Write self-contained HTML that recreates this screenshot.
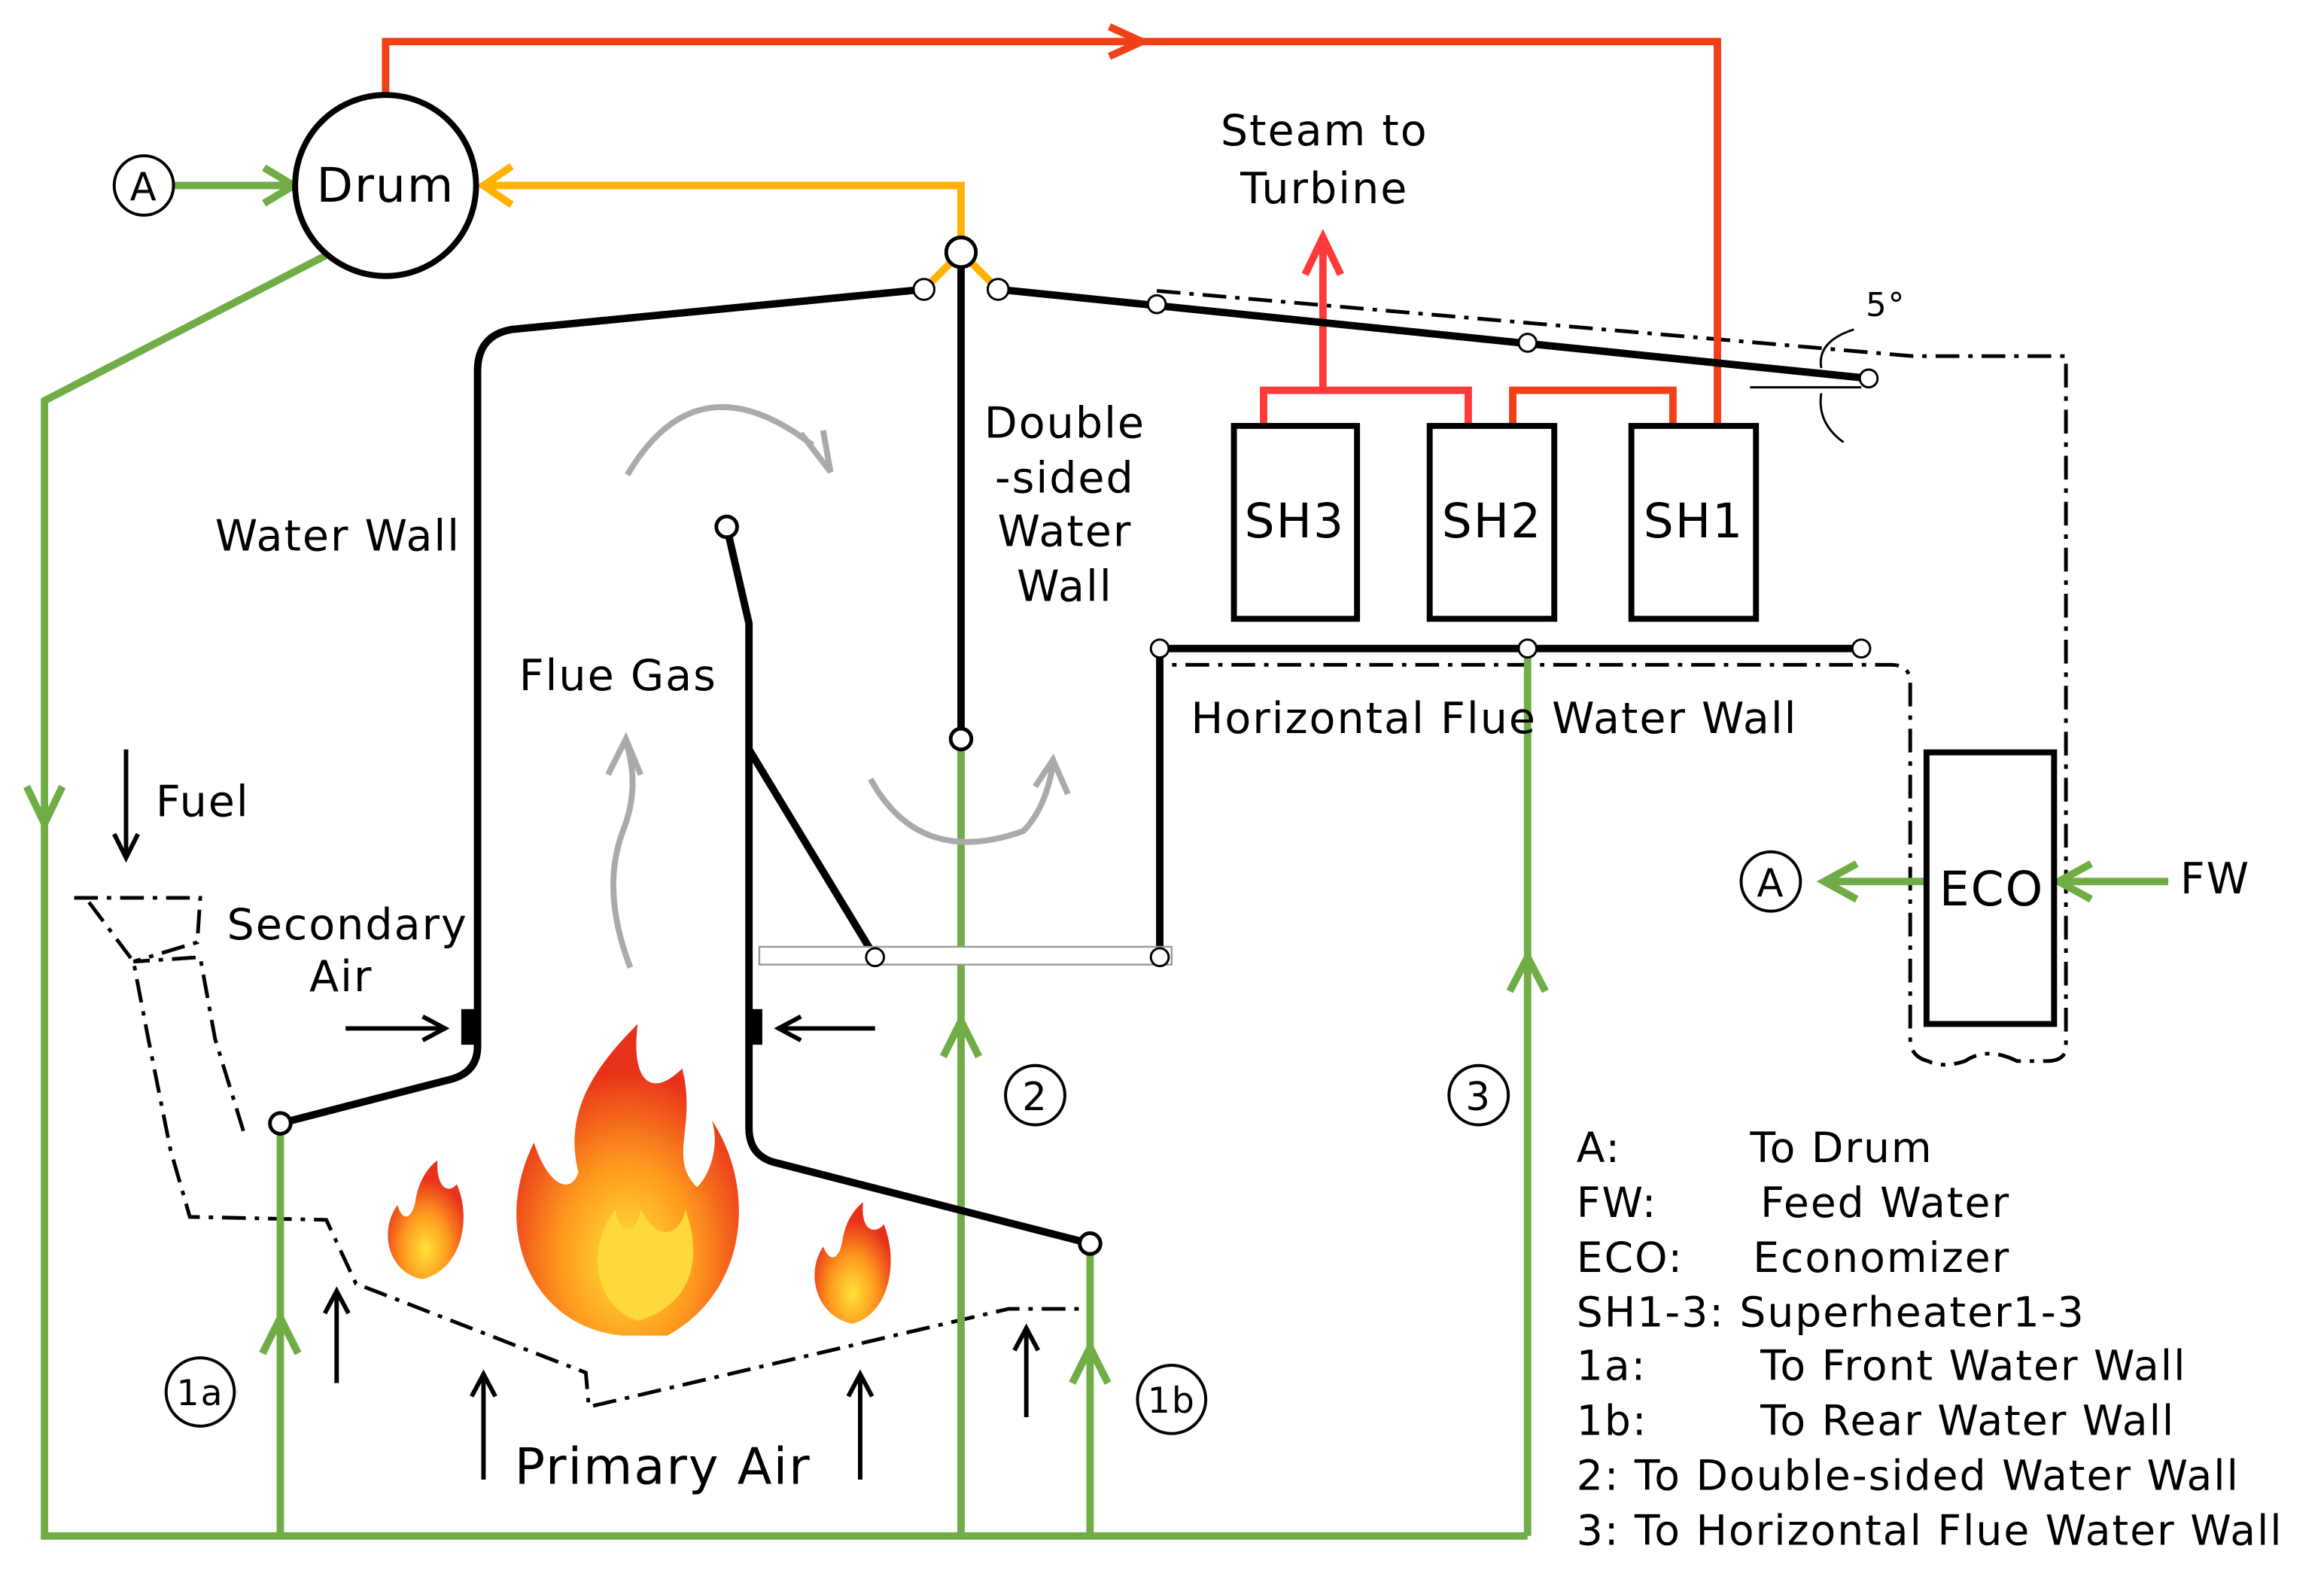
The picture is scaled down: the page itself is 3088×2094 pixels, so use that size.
<!DOCTYPE html>
<html><head><meta charset="utf-8">
<style>
html,body{margin:0;padding:0;background:#fff;}
svg{display:block;}
text{font-family:"DejaVu Sans","Liberation Sans",sans-serif;fill:#000;letter-spacing:1px;}
</style></head>
<body>
<svg width="3088" height="2094" viewBox="0 0 1567 1062" preserveAspectRatio="none" xmlns="http://www.w3.org/2000/svg">
<defs>
<radialGradient id="fl" cx="50%" cy="75%" r="60%">
<stop offset="0" stop-color="#ffe23a"/><stop offset="0.5" stop-color="#ff9a1e"/><stop offset="1" stop-color="#e8321a"/>
</radialGradient>
</defs>

<g fill="none" stroke="#000" stroke-width="2.5" stroke-dasharray="16,6,3,6">
<path d="M780,196 L1290,240 L1393,240 L1393,705 Q1393,715 1380,715 L1360,715 Q1340,705 1325,715 Q1310,720 1300,715 Q1288,712 1288,700 L1288,460 Q1288,448 1275,448 L782,448"/>
<path d="M50,605 L135,605 L133,635 L90,648 L135,645 L145,700 L165,765"/>
<path d="M60,608 L90,648 L100,700 L115,775 L128,820 L220,822 L240,865 L395,925 L397,948 L680,882 L735,882"/>
</g>

<g fill="none" stroke="#f04018" stroke-width="5">
<path d="M260,65 L260,28 L1158,28 L1158,287"/>
<path d="M1020,287 L1020,263 L1128,263 L1128,287"/>
</g>
<path d="M748,18 L770,28 L748,38" fill="none" stroke="#f04018" stroke-width="5"/>
<g fill="none" stroke="#ff3a3a" stroke-width="5">
<path d="M852,287 L852,263 L990,263 L990,287"/>
<path d="M892,263 L892,165"/>
<path d="M880,185 L892,160 L904,185"/>
</g>

<g fill="none" stroke="#ffb300" stroke-width="5">
<path d="M648,170 L648,125 L325,125"/>
<path d="M345,112 L326,125 L345,138"/>
<path d="M648,170 L623,195 M648,170 L673,195"/>
</g>

<g fill="none" stroke="#70ad47" stroke-width="5">
<path d="M220,172 L30,270 L30,1035 L1030,1035"/>
<path d="M118,125 L195,125"/><path d="M178,113 L198,125 L178,137"/>
<path d="M18,530 L30,555 L42,530"/>
<path d="M189,757 L189,1035"/><path d="M177,912 L189,888 L201,912"/>
<path d="M735,838 L735,1035"/><path d="M723,932 L735,908 L747,932"/>
<path d="M648,498 L648,1035"/><path d="M636,712 L648,688 L660,712"/>
<path d="M1030,437 L1030,1035"/><path d="M1018,668 L1030,645 L1042,668"/>
<path d="M1299,594 L1232,594"/><path d="M1252,582 L1230,594 L1252,606"/>
<path d="M1462,594 L1390,594"/><path d="M1410,582 L1388,594 L1410,606"/>
</g>

<g fill="none" stroke="#000" stroke-width="5">
<path d="M623,195 L345,222 Q322,226 322,250 L322,705 Q322,722 305,727 L189,757"/>
<path d="M673,195 L1260,255"/>
<path d="M648,170 L648,498"/>
<path d="M490,355 L505,420 L505,760 Q505,780 525,784 L735,838"/>
<path d="M505,505 L590,645"/>
<path d="M782,645 L782,437 L1255,437"/>
</g>
<rect x="512" y="638" width="278" height="12" fill="#fff" stroke="#999" stroke-width="1.2"/>
<rect x="311" y="680" width="10" height="24" fill="#000"/>
<rect x="504" y="680" width="10" height="24" fill="#000"/>

<g fill="#fff" stroke="#000" stroke-width="2.5">
<circle cx="648" cy="170" r="10"/>
<circle cx="623" cy="195" r="7" stroke-width="1.5"/><circle cx="673" cy="195" r="7" stroke-width="1.5"/>
<circle cx="780" cy="205" r="6" stroke-width="1.5"/><circle cx="1030" cy="231" r="6" stroke-width="1.5"/><circle cx="1260" cy="255" r="6" stroke-width="1.5"/>
<circle cx="648" cy="498" r="7"/><circle cx="490" cy="355" r="7"/>
<circle cx="189" cy="757" r="7"/><circle cx="735" cy="838" r="7"/>
<circle cx="590" cy="645" r="6" stroke-width="1.5"/><circle cx="782" cy="645" r="6" stroke-width="1.5"/>
<circle cx="782" cy="437" r="6" stroke-width="1.5"/><circle cx="1030" cy="437" r="6" stroke-width="1.5"/><circle cx="1255" cy="437" r="6" stroke-width="1.5"/>
</g>

<circle cx="260" cy="125" r="61" fill="#fff" stroke="#000" stroke-width="4"/>
<text x="260" y="136" font-size="32" text-anchor="middle">Drum</text>
<circle cx="97" cy="125" r="20" fill="#fff" stroke="#000" stroke-width="2"/>
<text x="97" y="135" font-size="26" text-anchor="middle">A</text>

<g fill="#fff" stroke="#000" stroke-width="4">
<rect x="832" y="287" width="83" height="130"/>
<rect x="964" y="287" width="84" height="130"/>
<rect x="1100" y="287" width="84" height="130"/>
<rect x="1299" y="507" width="86" height="183"/>
</g>
<g font-size="32" text-anchor="middle">
<text x="873" y="362">SH3</text><text x="1006" y="362">SH2</text><text x="1142" y="362">SH1</text>
<text x="1343" y="610">ECO</text>
</g>

<g fill="none" stroke="#000" stroke-width="1.5">
<path d="M1180,261 L1255,261"/>
<path d="M1250,222 Q1225,230 1228,248"/><path d="M1228,265 Q1225,285 1243,298"/>
</g>
<text x="1258" y="213" font-size="22">5°</text>

<g fill="none" stroke="#aaa" stroke-width="4">
<path d="M423,320 Q470,240 548,300"/><path d="M540,292 L560,318 L555,290"/>
<path d="M425,652 Q405,600 420,560 Q432,530 422,500"/><path d="M410,522 L422,498 L432,522"/>
<path d="M587,525 Q620,585 690,560 Q705,545 710,515"/><path d="M698,530 L710,512 L720,535"/>
</g>

<g fill="none" stroke="#000" stroke-width="3">
<path d="M85,505 L85,575"/><path d="M77,562 L85,578 L93,562"/>
<path d="M233,693 L297,693"/><path d="M285,685 L300,693 L285,701"/>
<path d="M590,693 L528,693"/><path d="M540,685 L525,693 L540,701"/>
<path d="M227,932 L227,872"/><path d="M219,885 L227,870 L235,885"/>
<path d="M326,997 L326,928"/><path d="M318,941 L326,926 L334,941"/>
<path d="M580,997 L580,928"/><path d="M572,941 L580,926 L588,941"/>
<path d="M692,955 L692,897"/><path d="M684,910 L692,895 L700,910"/>
</g>

<g stroke="none">
<path d="M420,900 C360,895 330,830 360,770 C370,800 385,805 390,790 C380,750 400,720 430,690 C425,730 440,740 460,720 C470,760 450,780 470,800 C480,790 485,770 480,755 C510,800 505,870 450,900 Z" fill="url(#fl)"/>
<path d="M430,890 C400,880 395,840 415,815 C418,835 430,830 432,815 C445,840 460,830 462,815 C475,850 465,880 430,890 Z" fill="#ffd93a"/>
<path d="M285,862 C262,858 255,830 268,812 C272,825 278,820 280,810 C282,795 290,785 295,782 C294,800 302,805 308,798 C318,820 312,855 285,862 Z" fill="url(#fl)"/>
<path d="M575,892 C552,888 542,860 555,840 C560,852 566,848 568,836 C570,823 576,815 582,810 C580,830 590,832 596,825 C606,850 600,885 575,892 Z" fill="url(#fl)"/>
</g>

<g font-size="29">
<text x="893" y="98" text-anchor="middle">Steam to</text>
<text x="893" y="137" text-anchor="middle">Turbine</text>
<text x="718" y="295" text-anchor="middle">Double</text>
<text x="718" y="332" text-anchor="middle">-sided</text>
<text x="718" y="368" text-anchor="middle">Water</text>
<text x="718" y="405" text-anchor="middle">Wall</text>
<text x="145" y="371">Water Wall</text>
<text x="350" y="465">Flue Gas</text>
<text x="105" y="550">Fuel</text>
<text x="153" y="633">Secondary</text>
<text x="230" y="668" text-anchor="middle">Air</text>
<text x="803" y="494">Horizontal Flue Water Wall</text>
<text x="1470" y="602">FW</text>
<text x="347" y="1000" font-size="34">Primary Air</text>
</g>

<g fill="#fff" stroke="#000" stroke-width="2">
<circle cx="1194" cy="594" r="20"/><circle cx="698" cy="738" r="20"/><circle cx="997" cy="738" r="20"/>
<circle cx="135" cy="938" r="23"/><circle cx="790" cy="943" r="23"/>
</g>
<g font-size="26" text-anchor="middle">
<text x="1194" y="604">A</text><text x="698" y="748">2</text><text x="997" y="748">3</text>
<text x="135" y="947" font-size="24">1a</text><text x="790" y="952" font-size="24">1b</text>
</g>

<g font-size="28" style="letter-spacing:1.6px">
<text x="1063" y="783">A:</text><text x="1180" y="783">To Drum</text>
<text x="1063" y="820">FW:</text><text x="1187" y="820">Feed Water</text>
<text x="1063" y="857">ECO:</text><text x="1182" y="857">Economizer</text>
<text x="1063" y="894">SH1-3: Superheater1-3</text>
<text x="1063" y="930">1a:</text><text x="1187" y="930">To Front Water Wall</text>
<text x="1063" y="967">1b:</text><text x="1187" y="967">To Rear Water Wall</text>
<text x="1063" y="1004">2: To Double-sided Water Wall</text>
<text x="1063" y="1041">3: To Horizontal Flue Water Wall</text>
</g>
</svg>
</body></html>
